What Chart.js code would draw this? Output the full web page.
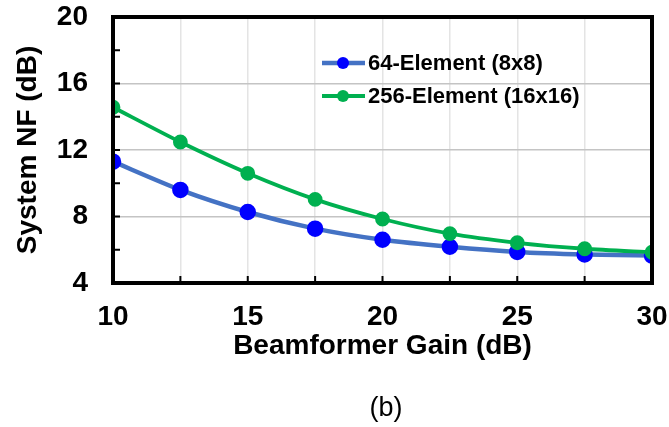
<!DOCTYPE html>
<html>
<head>
<meta charset="utf-8">
<script src="https://cdn.jsdelivr.net/npm/chart.js@4"></script>
<style>
  html, body { margin: 0; padding: 0; background: #fff; }
  #wrap { position: relative; width: 669px; height: 427px; }
  #caption {
    position: absolute; left: 336px; top: 391px; width: 100px;
    text-align: center; font: 27px "Liberation Sans", Arial, sans-serif;
    line-height: 32px; color: #000;
  }
</style>
</head>
<body>
<div id="wrap">
  <canvas id="nfChart" width="669" height="427"></canvas>
  <div id="caption">(b)</div>
</div>
<script>
// Beamformer gain sweep (dB)
const gains = [10, 12.5, 15, 17.5, 20, 22.5, 25, 27.5, 30];
// System NF (dB) per array size
const nf64 = [11.3, 9.6, 8.27, 7.27, 6.6, 6.18, 5.87, 5.72, 5.65];
const nf256 = [14.57, 12.48, 10.6, 9.03, 7.85, 6.97, 6.42, 6.06, 5.85];
const seriesNames = ["64-Element (8x8)", "256-Element (16x16)"];
const xTicks = [10, 15, 20, 25, 30];
const yTicks = [4, 8, 12, 16, 20];

const FONT = '"Liberation Sans", Arial, sans-serif';

function toPoints(ys) {
  return gains.map((g, i) => ({ x: g, y: ys[i] }));
}

// frame around the plot + inward tick marks
const framePlugin = {
  id: 'frame',
  afterDatasetsDraw(chart) {
    const { ctx, chartArea: a, scales } = chart;
    ctx.save();
    ctx.strokeStyle = '#000';
    ctx.lineWidth = 2;
    for (let v = 4; v <= 20; v += 2) {
      const y = scales.y.getPixelForValue(v);
      ctx.beginPath();
      ctx.moveTo(a.left, y);
      ctx.lineTo(a.left + 7, y);
      ctx.stroke();
    }
    for (let v = 10; v <= 30; v += 2.5) {
      const x = scales.x.getPixelForValue(v);
      ctx.beginPath();
      ctx.moveTo(x, a.bottom);
      ctx.lineTo(x, a.bottom - 7);
      ctx.stroke();
    }
    ctx.lineWidth = 4;
    ctx.strokeRect(a.left, a.top, a.right - a.left, a.bottom - a.top);
    ctx.restore();
  }
};

// legend sits inside the plot
const legendPlugin = {
  id: 'innerLegend',
  afterDraw(chart) {
    const { ctx } = chart;
    const rows = [
      { y: 63, line: '#4472C4', dot: '#0000FF', lw: 4.5 },
      { y: 96, line: '#00B050', dot: '#00B050', lw: 4 }
    ];
    ctx.save();
    ctx.font = 'bold 22px ' + FONT;
    ctx.textBaseline = 'middle';
    rows.forEach((r, i) => {
      ctx.strokeStyle = r.line;
      ctx.lineWidth = r.lw;
      ctx.beginPath();
      ctx.moveTo(322, r.y);
      ctx.lineTo(365, r.y);
      ctx.stroke();
      ctx.fillStyle = r.dot;
      ctx.beginPath();
      ctx.arc(343, r.y, 6, 0, Math.PI * 2);
      ctx.fill();
      ctx.fillStyle = '#000';
      ctx.fillText(seriesNames[i], 368, r.y + 1);
    });
    ctx.restore();
  }
};

new Chart(document.getElementById('nfChart'), {
  type: 'line',
  data: {
    datasets: [{
      label: seriesNames[0],
      data: toPoints(nf64),
      borderColor: '#4472C4',
      borderWidth: 4.5,
      pointBackgroundColor: '#0000FF',
      pointBorderColor: '#0000FF',
      pointRadius: 6,
      tension: 0.25,
      order: 1
    }, {
      label: seriesNames[1],
      data: toPoints(nf256),
      borderColor: '#00B050',
      borderWidth: 3.8,
      pointBackgroundColor: '#00B050',
      pointBorderColor: '#00B050',
      pointRadius: 5.5,
      tension: 0.25,
      order: 0
    }]
  },
  options: {
    responsive: false,
    animation: false,
    layout: { padding: { top: 17, right: 17, left: 0, bottom: 64 } },
    plugins: { legend: { display: false }, tooltip: { enabled: false } },
    scales: {
      x: {
        type: 'linear',
        min: 10, max: 30,
        // fixed box, labels may spill into the outer padding
        afterFit: s => { s.height = 80; s.paddingLeft = 0; s.paddingRight = 0; },
        ticks: {
          stepSize: 2.5,
          padding: 17,
          maxRotation: 0,
          color: '#000',
          font: { family: FONT, size: 28, weight: 'bold' },
          callback: v => xTicks.includes(v) ? String(v) : ''
        },
        grid: { color: '#e4e4e4', lineWidth: 1.5, drawTicks: false },
        border: { display: false },
        title: {
          display: true,
          text: 'Beamformer Gain (dB)',
          color: '#000',
          font: { family: FONT, size: 28, weight: 'bold' },
          padding: { top: 0, bottom: 0 }
        }
      },
      y: {
        min: 4, max: 20,
        afterFit: s => { s.width = 113; s.paddingTop = 0; s.paddingBottom = 0; },
        ticks: {
          stepSize: 2,
          padding: 25,
          color: '#000',
          font: { family: FONT, size: 28, weight: 'bold' },
          callback: v => yTicks.includes(v) ? String(v) : ''
        },
        grid: {
          color: c => (c.tick && c.tick.value % 4 === 0) ? '#c4c4c4' : '#ececec',
          lineWidth: 1.5,
          drawTicks: false
        },
        border: { display: false },
        title: {
          display: true,
          text: 'System NF (dB)',
          color: '#000',
          font: { family: FONT, size: 28, weight: 'bold' },
          padding: { top: 11, bottom: 0 }
        }
      }
    }
  },
  plugins: [framePlugin, legendPlugin]
});
</script>
</body>
</html>
